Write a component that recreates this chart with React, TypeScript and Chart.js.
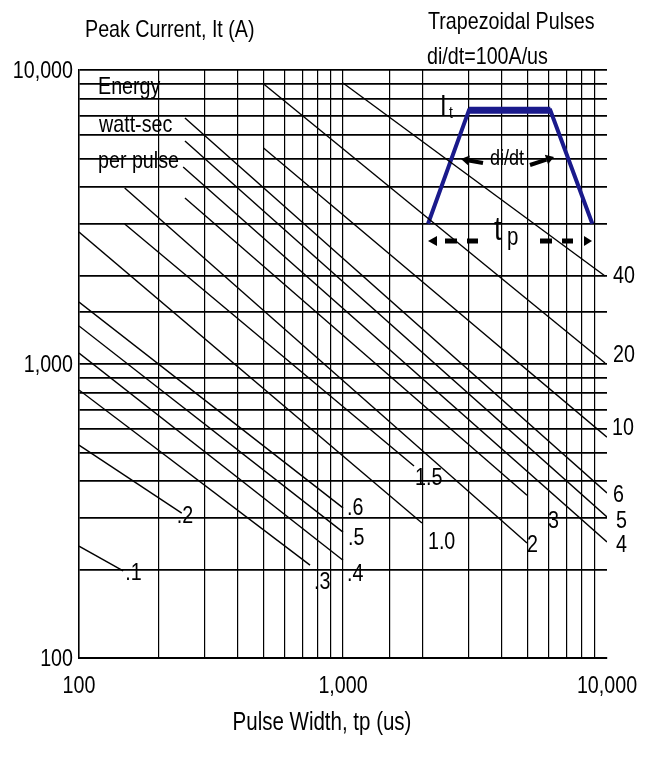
import React, { useEffect, useRef } from 'react';
import { Chart, registerables } from 'chart.js';

Chart.register(...registerables);

const FONT = '"Liberation Sans", Arial, sans-serif';
const SX = 0.82; // horizontal condensing of text (narrow face look)
const NAVY = '#1a1a8c';

// Energy (watt-sec per pulse) curve labels
const energyLabels = ['.1', '.2', '.3', '.4', '.5', '.6', '1.0', '1.5', '2', '3', '4', '5', '6', '10', '20', '40'];
// Curve start (upper-left) points: pulse width (us), peak current (A)
const curveStartX = [100, 100, 100, 100, 100, 100, 100, 149, 149, 252, 248, 252, 252, 500, 498, 1000];
const curveStartY = [240, 530, 816, 1090, 1347, 1625, 2812, 2994, 3968, 3669, 4677, 5735, 6866, 5429, 9000, 9030];
// Curve end (lower-right) points
const curveEndX = [147, 245, 750, 1000, 1000, 1000, 1991, 1858, 4977, 4977, 10000, 10000, 10000, 10000, 9830, 9830];
const curveEndY = [198, 311, 207, 215, 268, 324, 288, 450, 246, 358, 248, 302, 364, 564, 1008, 1992];

// Trapezoid schematic corners (data coordinates)
const trapX = [2100, 3000, 6100, 8800];
const trapY = [3000, 7300, 7300, 3000];

// label offsets from curve end (px)
const labelDx = [2, -5, 4, 4, 5, 4, 6, 1, 0, 21, 9, 9, 6, 5, 8, 8];
const labelDy = [3, 3, 17, 14, 6, 0, 19, 12, 2, 26, 3, 4, 2, -9, -8, 0];

const isDecade = (v: number) => Math.abs(Math.log10(v) - Math.round(Math.log10(v))) < 1e-9;
const fmt = (v: number) => Number(v).toLocaleString('en-US');

export default function App() {
  const ref = useRef<HTMLCanvasElement>(null);

  useEffect(() => {
    const canvas = ref.current;
    if (!canvas) return;

    const datasets: any[] = energyLabels.map((lab, i) => ({
      label: lab,
      data: [
        { x: curveStartX[i], y: curveStartY[i] },
        { x: curveEndX[i], y: curveEndY[i] },
      ],
      borderColor: '#000',
      borderWidth: 1.4,
      pointRadius: 0,
      fill: false,
      tension: 0,
    }));
    datasets.push({
      label: 'trapezoid',
      data: trapX.map((x, i) => ({ x, y: trapY[i] })),
      borderColor: NAVY,
      borderWidth: 4,
      pointRadius: 0,
      fill: false,
      tension: 0,
      borderJoinStyle: 'miter',
    });
    datasets.push({
      label: 'trapezoidTop',
      data: [{ x: trapX[1], y: trapY[1] }, { x: trapX[2], y: trapY[2] }],
      borderColor: NAVY,
      borderWidth: 7,
      pointRadius: 0,
      fill: false,
      tension: 0,
    });

    const annot = {
      id: 'annot',
      afterDatasetsDraw(chart: any) {
        const ctx = chart.ctx as CanvasRenderingContext2D;
        const xs = chart.scales.x;
        const ys = chart.scales.y;

        const txt = (
          s: string,
          x: number,
          y: number,
          size: number,
          align: CanvasTextAlign = 'left',
          base: CanvasTextBaseline = 'alphabetic'
        ) => {
          ctx.save();
          ctx.font = `${size}px ${FONT}`;
          ctx.fillStyle = '#000';
          ctx.textAlign = align;
          ctx.textBaseline = base;
          ctx.translate(x, y);
          ctx.scale(SX, 1);
          ctx.fillText(s, 0, 0);
          ctx.restore();
        };

        // axis tick labels (decades only), from the scales' own ticks
        xs.ticks.forEach((t: any) => {
          if (isDecade(t.value)) txt(fmt(t.value), xs.getPixelForValue(t.value), 686, 24, 'center', 'middle');
        });
        ys.ticks.forEach((t: any) => {
          if (isDecade(t.value)) txt(fmt(t.value), 73, ys.getPixelForValue(t.value) + 1, 24, 'right', 'middle');
        });

        // curve labels
        energyLabels.forEach((lab, i) => {
          const px = xs.getPixelForValue(curveEndX[i]) + labelDx[i];
          const py = ys.getPixelForValue(curveEndY[i]) + labelDy[i];
          txt(lab, px, py, 24, 'left', 'middle');
        });

        txt('Peak Current, It (A)', 85, 37, 24);
        txt('Trapezoidal Pulses', 428, 29, 24);
        txt('di/dt=100A/us', 427, 64, 24);
        txt('Energy', 98, 94, 24);
        txt('watt-sec', 99, 132, 24);
        txt('per pulse', 98, 168, 24);
        txt('Pulse Width, tp (us)', 322, 730, 25, 'center');

        // It label
        txt('I', 440, 115, 29);
        txt('t', 449, 118, 17);
        // tp label
        txt('t', 494, 240, 34);
        txt('p', 507, 245, 25);
        // di/dt
        txt('di/dt', 507, 159, 22, 'center', 'middle');

        ctx.save();
        ctx.fillStyle = '#000';
        ctx.strokeStyle = '#000';
        const arrow = (x0: number, y0: number, x1: number, y1: number) => {
          const ang = Math.atan2(y1 - y0, x1 - x0);
          const hl = 8;
          const bx = x1 - hl * Math.cos(ang);
          const by = y1 - hl * Math.sin(ang);
          ctx.lineWidth = 4;
          ctx.beginPath();
          ctx.moveTo(x0, y0);
          ctx.lineTo(bx, by);
          ctx.stroke();
          ctx.beginPath();
          ctx.moveTo(x1, y1);
          ctx.lineTo(bx + 5 * Math.sin(ang), by - 5 * Math.cos(ang));
          ctx.lineTo(bx - 5 * Math.sin(ang), by + 5 * Math.cos(ang));
          ctx.closePath();
          ctx.fill();
        };
        arrow(483, 163, 461, 159);
        arrow(530, 165, 554, 157);

        // tp dashed arrows
        const yy = 241;
        ctx.fillRect(445, yy - 2.5, 12, 5);
        ctx.fillRect(467, yy - 2.5, 11, 5);
        ctx.fillRect(540, yy - 2.5, 12, 5);
        ctx.fillRect(562, yy - 2.5, 11, 5);
        ctx.beginPath();
        ctx.moveTo(428, yy);
        ctx.lineTo(437, yy - 5);
        ctx.lineTo(437, yy + 5);
        ctx.closePath();
        ctx.fill();
        ctx.beginPath();
        ctx.moveTo(592, yy);
        ctx.lineTo(584, yy - 5);
        ctx.lineTo(584, yy + 5);
        ctx.closePath();
        ctx.fill();
        ctx.restore();
      },
    };

    const chart = new Chart(canvas, {
      type: 'line',
      data: { datasets },
      plugins: [annot],
      options: {
        responsive: false,
        animation: false,
        devicePixelRatio: 1,
        layout: { padding: { left: 0, right: 50, top: 70, bottom: 0 } },
        plugins: {
          legend: { display: false },
          tooltip: { enabled: false },
          title: { display: false },
        },
        scales: {
          x: {
            type: 'logarithmic',
            min: 100,
            max: 10000,
            position: 'bottom',
            afterFit: (s: any) => {
              s.height = 99;
            },
            grid: {
              color: (c: any) => (c.tick && c.tick.value === 10000 ? 'rgba(0,0,0,0)' : '#000'),
              lineWidth: 1.2,
              drawTicks: false,
            },
            border: { display: true, color: '#000', width: 2 },
            ticks: { display: false, autoSkip: false },
          },
          y: {
            type: 'logarithmic',
            min: 100,
            max: 10000,
            position: 'left',
            afterFit: (s: any) => {
              s.width = 79;
            },
            grid: { color: '#000', lineWidth: 1.8, drawTicks: false },
            border: { display: true, color: '#000', width: 1.5 },
            ticks: { display: false, autoSkip: false },
          },
        },
      } as any,
    });

    return () => {
      chart.destroy();
    };
  }, []);

  return (
    <canvas
      ref={ref}
      width={657}
      height={757}
      style={{ position: 'fixed', left: 0, top: 0, width: 657, height: 757, display: 'block', background: '#fff' }}
    />
  );
}
